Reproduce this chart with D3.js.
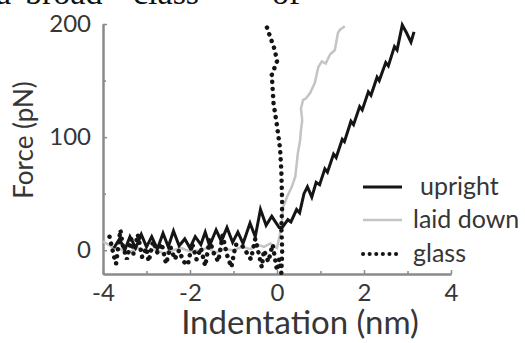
<!DOCTYPE html>
<html>
<head>
<meta charset="utf-8">
<script src="https://cdn.jsdelivr.net/npm/d3@7"></script>
<style>
  html, body { margin: 0; padding: 0; background: #fff; }
  svg { display: block; }
  text { font-family: Lato, "Open Sans", sans-serif; fill: #363636; }
</style>
</head>
<body>
<svg id="chart" width="525" height="343"></svg>
<script>
// Force-indentation curves: tip pressing on an upright layer, a laid-down layer, and bare glass.
const xTicks = [-4, -2, 0, 2, 4];
const xMinorTicks = [-3, -1, 1, 3];
const yTicks = [0, 100, 200];
const yMinorTicks = [50, 150];
const seriesNames = ["upright", "laid down", "glass"];

// upright: indentation (nm), force (pN)
const uprightX = [-3.75, -3.62, -3.5, -3.38, -3.25, -3.12, -3.0, -2.88, -2.75, -2.62, -2.5, -2.38, -2.25, -2.12, -2.0, -1.88, -1.75, -1.65, -1.55, -1.4, -1.28, -1.15, -1.02, -0.9, -0.78, -0.62, -0.5, -0.38, -0.25, -0.12, 0.05, 0.12,
  0.25, 0.32, 0.45, 0.52, 0.62, 0.7, 0.8, 0.9, 0.98, 1.1, 1.16, 1.3, 1.36, 1.5, 1.55, 1.7, 1.76, 1.9, 1.96, 2.1, 2.16, 2.3, 2.35, 2.5, 2.56, 2.7, 2.76, 2.88, 2.98, 3.08, 3.15];
const uprightF = [2, 10, 0, 12, 2, 14, 3, 12, 1, 15, 3, 17, 4, 10, 2, 12, 5, 16, 4, 18, 8, 20, 7, 16, 6, 24, 12, 36, 22, 30, 20, 20,
  27, 25, 36, 33, 50, 56, 47, 60, 58, 72, 69, 85, 82, 98, 96, 114, 111, 127, 124, 140, 137, 153, 150, 166, 163, 180, 177, 199, 192, 184, 193];

// laid down
const laidX = [-4.0, -3.8, -3.6, -3.4, -3.2, -3.0, -2.8, -2.6, -2.4, -2.2, -2.0, -1.8, -1.6, -1.4, -1.2, -1.0, -0.8, -0.6, -0.45, -0.3, -0.15, 0.0, 0.1,
  0.14, 0.23, 0.34, 0.42, 0.48, 0.53, 0.55, 0.58, 0.55, 0.6, 0.66, 0.76, 0.87, 0.95, 1.03, 1.12, 1.22, 1.33, 1.4, 1.45, 1.56];
const laidF = [8, 3, 1, -2, 2, -1, 1, -3, 0, 2, -1, 0, 2, -2, 1, 0, 3, 1, 5, 3, 6, 2, 20,
  38, 47, 56, 65, 86, 97, 106, 115, 125, 133, 134, 139, 148, 162, 167, 165, 173, 177, 192, 195, 198];

// glass
const glassX = [-3.85, -3.75, -3.7, -3.6, -3.55, -3.45, -3.35, -3.3, -3.2, -3.1, -3.0, -2.95, -2.85, -2.75, -2.65, -2.55, -2.45, -2.35, -2.25, -2.15, -2.05, -1.95, -1.85, -1.75, -1.65, -1.55, -1.45, -1.35, -1.25, -1.15, -1.05, -0.95, -0.8, -0.7, -0.6, -0.5, -0.45, -0.35, -0.3, -0.2, -0.1, 0.0, 0.05, 0.1,
  0.12, 0.1, 0.12, 0.1, 0.07, 0.0, -0.08, -0.12, 0.0, -0.05, -0.25];
const glassF = [12, -5, -12, 18, 5, -8, 10, -3, 14, -6, 2, -10, 8, -2, 6, -12, 3, -8, 0, -10, -13, 6, -8, 2, -14, 9, -3, -10, 13, -4, -15, 5, 4, -2, -8, 10, 2, -15, 0, -10, 5, -18, -8, -20,
  0, 20, 40, 70, 90, 110, 130, 155, 167, 177, 199];

const svg = d3.select("#chart");
const margin = { left: 103, top: 24, right: 74, bottom: 69 };
const W = 525 - margin.left - margin.right;
const H = 343 - margin.top - margin.bottom;

const x = d3.scaleLinear().domain([-4, 4]).range([0, W]);
const y = d3.scaleLinear().domain([-21, 200]).range([H, 0]);

// clipped running text of the page above the figure
const para = [["a", -4], ["broad", 25], ["class", 133], ["of", 272]];
svg.append("g").selectAll("text").data(para).join("text")
  .attr("x", d => d[1]).attr("y", 4)
  .style("font-family", "'Liberation Serif', 'Times New Roman', serif")
  .style("font-size", "34px").style("fill", "#111")
  .text(d => d[0]);

const g = svg.append("g").attr("transform", `translate(${margin.left},${margin.top})`);

const axisColor = "#8a8a8a";

// y axis
const yAxis = g.append("g")
  .call(d3.axisLeft(y).tickValues(yTicks).tickSizeInner(-4).tickSizeOuter(0).tickPadding(12));
const yMinor = g.append("g")
  .call(d3.axisLeft(y).tickValues(yMinorTicks).tickSizeInner(-3).tickSizeOuter(0).tickFormat(""));

// x axis
const xAxis = g.append("g").attr("transform", `translate(0,${H})`)
  .call(d3.axisBottom(x).tickValues(xTicks).tickFormat(d => d < 0 ? "-" + Math.abs(d) : d)
    .tickSizeInner(-4).tickSizeOuter(0).tickPadding(10));
const xMinor = g.append("g").attr("transform", `translate(0,${H})`)
  .call(d3.axisBottom(x).tickValues(xMinorTicks).tickSizeInner(-3).tickSizeOuter(0).tickFormat(""));

[yAxis, yMinor, xAxis, xMinor].forEach(a => {
  a.select(".domain").attr("stroke", axisColor).attr("stroke-width", 2);
  a.selectAll(".tick line").attr("stroke", axisColor).attr("stroke-width", 1.5);
  a.selectAll(".tick text").style("font-family", "Lato, sans-serif").style("font-size", "24px").attr("fill", "#363636");
});

// axis titles
svg.append("text")
  .attr("transform", "translate(33,140) rotate(-90)")
  .attr("text-anchor", "middle")
  .style("font-size", "26px")
  .text("Force (pN)");
svg.append("text")
  .attr("x", 300).attr("y", 334)
  .attr("text-anchor", "middle")
  .style("font-size", "33px")
  .text("Indentation (nm)");

const zip = (xs, fs) => xs.map((v, i) => [v, fs[i]]);
const line = d3.line().x(d => x(d[0])).y(d => y(d[1]));

const styles = {
  "upright": { stroke: "#151515", width: 3, dash: null },
  "laid down": { stroke: "#c4c4c4", width: 2.5, dash: null },
  "glass": { stroke: "#151515", width: 4.5, dash: "0.1 7" }
};

const data = {
  "laid down": zip(laidX, laidF),
  "glass": zip(glassX, glassF),
  "upright": zip(uprightX, uprightF)
};

["laid down", "upright", "glass"].forEach(name => {
  const s = styles[name];
  g.append("path")
    .datum(data[name])
    .attr("fill", "none")
    .attr("stroke", s.stroke)
    .attr("stroke-width", s.width)
    .attr("stroke-linejoin", "miter")
    .attr("stroke-linecap", s.dash ? "round" : "butt")
    .attr("stroke-dasharray", s.dash)
    .attr("d", line);
});

// legend
const legend = svg.append("g");
const legY = [187, 220, 254];
seriesNames.forEach((name, i) => {
  const s = styles[name];
  legend.append("line")
    .attr("x1", 363).attr("x2", 402).attr("y1", legY[i]).attr("y2", legY[i])
    .attr("stroke", s.stroke).attr("stroke-width", name === "glass" ? 4 : s.width)
    .attr("stroke-linecap", s.dash ? "round" : "butt")
    .attr("stroke-dasharray", s.dash ? "0.1 6.5" : null);
  legend.append("text")
    .attr("x", name === "upright" ? 420 : 413).attr("y", legY[i] + 8)
    .style("font-size", "25px")
    .text(name);
});
</script>
</body>
</html>
